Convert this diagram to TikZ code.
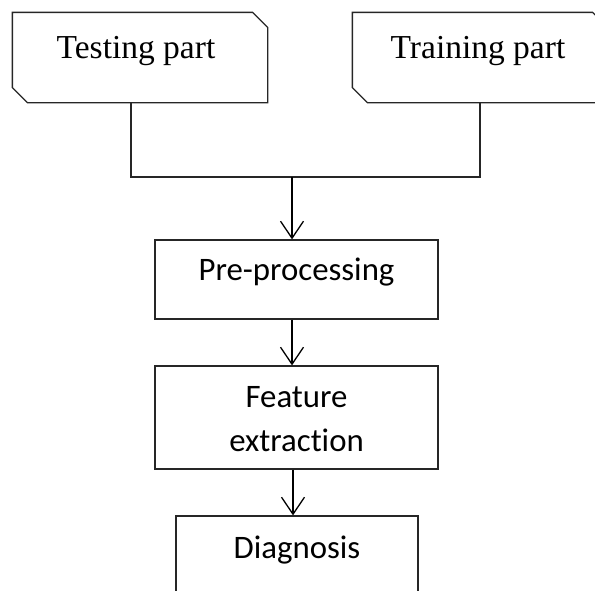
\documentclass[tikz,border=0pt]{standalone}
\usepackage{fontspec}
\newfontfamily\serifbox{Liberation Serif}
\newfontfamily\sansbox[RawFeature=-liga]{Carlito}
\usetikzlibrary{arrows.meta,positioning,calc}

\begin{document}
\begin{tikzpicture}[x=1pt,y=-1pt,line width=1.3pt,
  part/.style={rectangle, inner sep=0pt, minimum width=254pt,
    font=\serifbox\fontsize{33.5}{38}\selectfont, text height=45pt, text depth=44pt},
  stage/.style={draw=black!85, rectangle, inner sep=0pt, font=\sansbox\fontsize{32.8}{44}\selectfont, align=center},
  arr/.style={-{Straight Barb[length=17pt,width=23pt,line width=1.3pt]}}]
\useasboundingbox (0,0) rectangle (595,590);
\clip (0,0) rectangle (595,590);
% Input parts, cut corners top right and bottom left
\node[part] (test) at (140,57.5) {\hspace*{-8pt}Testing part};
\node[part] (train) at (480,57.5) {\hspace*{-4pt}Training part};
\foreach \p in {test,train}
  \draw[black!85] (\p.north west) -- ([xshift=-15pt]\p.north east) -- ([yshift=-15pt]\p.north east)
    -- (\p.south east) -- ([xshift=15pt]\p.south west) -- ([yshift=15pt]\p.south west) -- cycle;
% Processing chain
\node[stage, minimum width=283pt, text height=40pt, text depth=39pt] (pre) at (296.5,279.5) {Pre-processing};
\node[stage, minimum width=283pt, text height=85pt, text depth=18pt] (feat) at (296.5,417.5) {Feature\\extraction};
\node[stage, minimum width=242pt, text height=42pt, text depth=40pt] (diag) at (297,557) {Diagnosis};
% Joining the two parts
\coordinate (join) at (292,177);
\draw[black!85] (test.south -| 131,0) |- (join) -| (train.south);
% Arrows down the chain
\draw[arr] (join) -- (join |- pre.north);
\draw[arr] (pre.south -| join) -- (feat.north -| join);
\draw[arr] (feat.south -| 293,0) -- (diag.north -| 293,0);
\end{tikzpicture}
\end{document}
